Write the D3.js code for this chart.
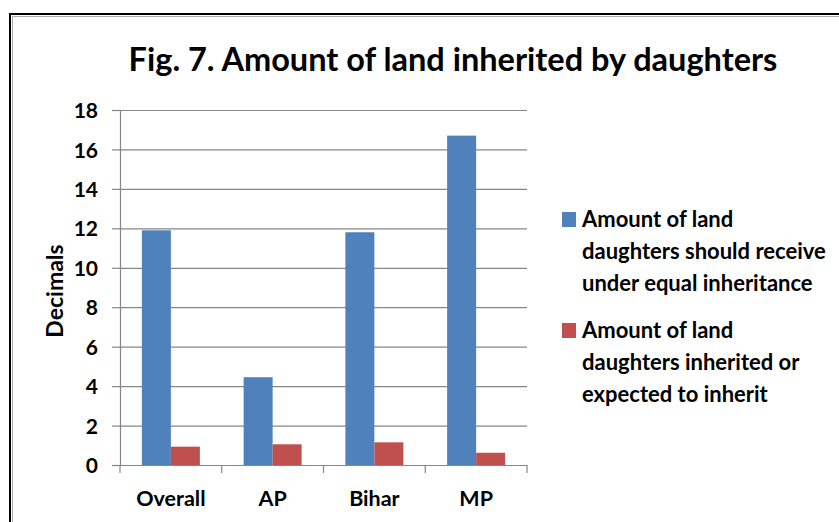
<!DOCTYPE html>
<html><head><meta charset="utf-8">
<script src="https://cdn.jsdelivr.net/npm/d3@7"></script>
<style>
html,body{margin:0;padding:0;background:#fff;overflow:hidden;}
svg{display:block;}
svg text{font-family:Lato,"Open Sans",sans-serif;font-weight:bold;fill:#000;}
</style></head>
<body><svg id="c" width="839" height="522"></svg>
<script>
const categories = ["Overall", "AP", "Bihar", "MP"];
const shouldReceive = [11.9, 4.45, 11.8, 16.7];
const inherited = [0.93, 1.05, 1.15, 0.62];
const yTicks = [0, 2, 4, 6, 8, 10, 12, 14, 16, 18];
const seriesNames = [
  ["Amount of land", "daughters should receive", "under equal inheritance"],
  ["Amount of land", "daughters inherited or", "expected to inherit"]
];
const colors = ["#4f81bd", "#c0504d"];
const title = "Fig. 7. Amount of land inherited by daughters";
const yTitle = "Decimals";

const svg = d3.select("#c");
// outer frame (top and left edges visible)
svg.append("path").attr("d", "M10,522V14H839").attr("fill", "none").attr("stroke", "#000").attr("stroke-width", 2);
svg.append("path").attr("d", "M12.5,522V16.5H839").attr("fill", "none").attr("stroke", "#aaa").attr("stroke-width", 1);

const m = {left: 120, right: 527, top: 110, bottom: 465};
const x = d3.scaleBand().domain(categories).range([m.left, m.right]).paddingInner(0.43).paddingOuter(0.215);
const xOuter = d3.scaleBand().domain(categories).range([m.left, m.right]);
const x1 = d3.scaleBand().domain([0, 1]).range([0, x.bandwidth()]);
const y = d3.scaleLinear().domain([0, 18]).range([m.bottom, m.top]);

// gridlines
svg.append("g").selectAll("line").data(yTicks.slice(1)).join("line")
  .attr("x1", m.left).attr("x2", m.right)
  .attr("y1", d => y(d) + 0.5).attr("y2", d => y(d) + 0.5)
  .attr("stroke", "#868686").attr("stroke-width", 1.2);

// bars
const groups = svg.append("g").selectAll("g").data(categories).join("g")
  .attr("transform", c => `translate(${x(c)},0)`);
groups.selectAll("rect").data((c, i) => [shouldReceive[i], inherited[i]]).join("rect")
  .attr("x", (d, j) => x1(j)).attr("width", x1.bandwidth())
  .attr("y", d => y(d)).attr("height", d => y(0) - y(d))
  .attr("fill", (d, j) => colors[j]);

// y axis
const yAxis = svg.append("g").attr("transform", `translate(${m.left},0)`)
  .call(d3.axisLeft(y).tickValues(yTicks).tickSize(8).tickPadding(14).tickFormat(d3.format("d")));
yAxis.select(".domain").attr("stroke", "#868686").attr("stroke-width", 1.2).attr("d", `M0.5,${m.top}V${m.bottom}`);
yAxis.selectAll(".tick line").attr("stroke", "#868686").attr("stroke-width", 1.2);
yAxis.selectAll(".tick text").style("font-size", "21px").attr("dy", "0.36em");

// x axis
const xAxis = svg.append("g").attr("transform", `translate(0,${m.bottom})`)
  .call(d3.axisBottom(xOuter).tickSize(0).tickPadding(26));
xAxis.select(".domain").attr("stroke", "#868686").attr("stroke-width", 1.2).attr("d", `M${m.left},0.5H${m.right}`);
xAxis.selectAll(".tick text").style("font-size", "21.5px");
// category boundary ticks
svg.append("g").selectAll("line").data(categories.concat([null])).join("line")
  .attr("x1", (d, i) => d ? xOuter(d) : m.right).attr("x2", (d, i) => d ? xOuter(d) : m.right)
  .attr("y1", m.bottom).attr("y2", m.bottom + 8)
  .attr("stroke", "#868686").attr("stroke-width", 1.2);

// title
svg.append("text").attr("x", 453).attr("y", 71).attr("text-anchor", "middle")
  .style("font-size", "32.5px").text(title);

// y title
svg.append("text").attr("transform", "translate(63,291) rotate(-90)").attr("text-anchor", "middle")
  .style("font-size", "23px").text(yTitle);

// legend
const leg = svg.append("g").selectAll("g").data(seriesNames).join("g")
  .attr("transform", (d, i) => `translate(562,${212 + i * 111})`);
leg.append("rect").attr("width", 14).attr("height", 15).attr("fill", (d, i) => colors[i]);
leg.append("text").attr("x", 20).attr("y", 15).style("font-size", "22px")
  .selectAll("tspan").data(d => d).join("tspan")
  .attr("x", 20).attr("dy", (d, i) => i === 0 ? 0 : 32).text(d => d);
</script></body></html>
